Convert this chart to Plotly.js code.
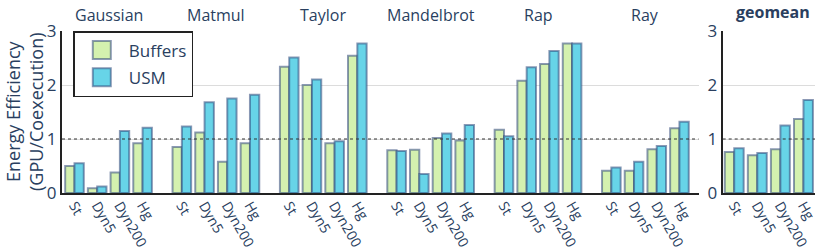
<!DOCTYPE html>
<html>
<head>
<meta charset="utf-8">
<script src="https://cdn.plot.ly/plotly-3.0.1.min.js"></script>
<style>html,body{margin:0;padding:0;background:#fff;}#chart{width:822px;height:250px;}</style>
</head>
<body>
<div id="chart"></div>
<script>
// ---- data ----
const benchmarks = ['Gaussian', 'Matmul', 'Taylor', 'Mandelbrot', 'Rap', 'Ray'];
const modes = ['St', 'Dyn5', 'Dyn200', 'Hg'];
// one row per benchmark, values in the order of `modes`
const buffersGaussian   = [0.50, 0.09, 0.38, 0.92];
const buffersMatmul     = [0.85, 1.12, 0.58, 0.92];
const buffersTaylor     = [2.34, 2.00, 0.92, 2.54];
const buffersMandelbrot = [0.79, 0.80, 1.02, 0.97];
const buffersRap        = [1.17, 2.08, 2.39, 2.77];
const buffersRay        = [0.41, 0.41, 0.81, 1.20];
const usmGaussian   = [0.55, 0.12, 1.15, 1.21];
const usmMatmul     = [1.23, 1.68, 1.75, 1.82];
const usmTaylor     = [2.51, 2.10, 0.96, 2.77];
const usmMandelbrot = [0.78, 0.35, 1.10, 1.26];
const usmRap        = [1.05, 2.33, 2.63, 2.77];
const usmRay        = [0.47, 0.58, 0.87, 1.32];
const geoBuffers = [0.76, 0.70, 0.81, 1.37];
const geoUsm     = [0.83, 0.74, 1.25, 1.72];
const yTitle = 'Energy Efficiency<br>(GPU/Coexecution)';

const buffersAll = [buffersGaussian, buffersMatmul, buffersTaylor, buffersMandelbrot, buffersRap, buffersRay];
const usmAll = [usmGaussian, usmMatmul, usmTaylor, usmMandelbrot, usmRap, usmRay];

// ---- layout helpers ----
const groupStride = 4.73; // category slots per benchmark group incl. gap
const xs = [], tickText = [], bVals = [], uVals = [];
benchmarks.forEach((b, g) => {
  modes.forEach((m, j) => {
    xs.push(g * groupStride + j);
    tickText.push(m);
    bVals.push(buffersAll[g][j]);
    uVals.push(usmAll[g][j]);
  });
});

const txt = '#2a3f5f';
const lineCol = 'rgba(45,70,120,0.55)';
const greenFill = '#d4f1af';
const cyanFill = '#67d4e8';

const traces = [
  {type: 'bar', name: 'Buffers', x: xs, y: bVals, xaxis: 'x', yaxis: 'y',
   legendgroup: 'b', marker: {color: greenFill, line: {color: lineCol, width: 2}}},
  {type: 'bar', name: 'USM', x: xs, y: uVals, xaxis: 'x', yaxis: 'y',
   legendgroup: 'u', marker: {color: cyanFill, line: {color: lineCol, width: 2}}},
  {type: 'bar', name: 'Buffers', x: modes, y: geoBuffers, xaxis: 'x2', yaxis: 'y2',
   showlegend: false, marker: {color: greenFill, line: {color: lineCol, width: 2}}},
  {type: 'bar', name: 'USM', x: modes, y: geoUsm, xaxis: 'x2', yaxis: 'y2',
   showlegend: false, marker: {color: cyanFill, line: {color: lineCol, width: 2}}}
];

const annotations = benchmarks.map((b, g) => ({
  text: b, xref: 'x', yref: 'paper', x: g * groupStride + 1.5, y: 1, yanchor: 'bottom',
  yshift: 3, showarrow: false, font: {size: 16, color: txt}
}));
annotations.push({
  text: '<b>geomean</b>', xref: 'x2 domain', yref: 'paper', x: 0.5, y: 1, yanchor: 'bottom',
  xshift: 4, yshift: 6, showarrow: false, font: {size: 16, color: txt}
});
// y-axis title (two lines) placed left of the tick labels
annotations.push({
  text: yTitle, xref: 'paper', yref: 'paper', x: 0, y: 0.5, xanchor: 'center', yanchor: 'middle',
  xshift: -38, borderpad: 0, textangle: -90, showarrow: false, font: {size: 18, color: txt}
});

const axisY = {
  range: [0, 3], tickvals: [0, 1, 2, 3], showgrid: true, gridcolor: '#dcdcdc', gridwidth: 1,
  showline: true, linecolor: '#222', linewidth: 2, zeroline: false, ticks: '',
  tickfont: {size: 17, color: txt}
};

const xTickFont = {size: 14, color: txt};

const layout = {
  width: 822, height: 250,
  margin: {l: 62, r: 7, t: 31, b: 57},
  paper_bgcolor: '#fff', plot_bgcolor: '#fff',
  font: {family: 'Open Sans, sans-serif', color: txt},
  barmode: 'group', bargap: 0.18, bargroupgap: 0,
  showlegend: true,
  legend: {x: 0.015, y: 1, xanchor: 'left', yanchor: 'top', bgcolor: '#fff',
           bordercolor: '#222', borderwidth: 1.5, font: {size: 17, color: txt},
           traceorder: 'grouped', tracegroupgap: 2, itemwidth: 44},
  xaxis: {domain: [0, 0.8453], range: [-0.55, 27.49], tickvals: xs, ticktext: tickText,
          tickangle: 60, tickfont: xTickFont, showgrid: false, zeroline: false,
          showline: true, linecolor: '#222', linewidth: 2, ticks: '', ticklabelstandoff: -3},
  xaxis2: {domain: [0.8774, 1], anchor: 'y2', tickangle: 60, tickfont: xTickFont,
           showgrid: false, zeroline: false, showline: true, linecolor: '#222', linewidth: 2,
           ticks: '', ticklabelstandoff: -3},
  yaxis: axisY,
  yaxis2: Object.assign({}, axisY, {anchor: 'x2'}),
  shapes: [
    {type: 'line', xref: 'x domain', yref: 'y', x0: 0, x1: 1, y0: 1, y1: 1,
     line: {color: '#333', width: 1.2, dash: 'dot'}},
    {type: 'line', xref: 'x2 domain', yref: 'y2', x0: 0, x1: 1, y0: 1, y1: 1,
     line: {color: '#333', width: 1.2, dash: 'dot'}}
  ],
  annotations: annotations
};

Plotly.newPlot('chart', traces, layout, {displayModeBar: false, staticPlot: true}).then(gd => {
  // enlarge legend swatches to match the reference
  gd.querySelectorAll('.legend .legendpoints path').forEach(p => p.setAttribute('d', 'M9,9H-9V-9H9Z'));
});
</script>
</body>
</html>
